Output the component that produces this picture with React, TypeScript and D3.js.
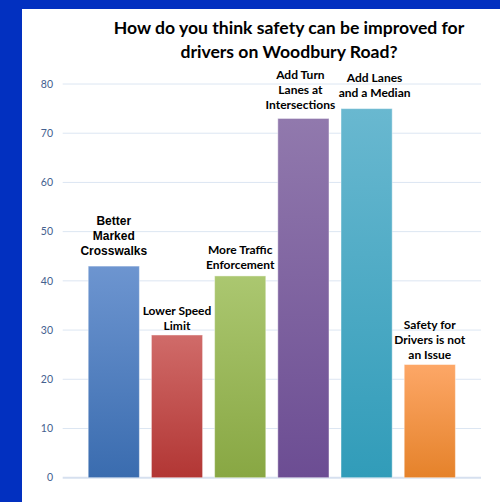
import React from "react";
import * as d3 from "d3";

const categories: string[][] = [
  ["Better", "Marked", "Crosswalks"],
  ["Lower Speed", "Limit"],
  ["More Traffic", "Enforcement"],
  ["Add Turn", "Lanes at", "Intersections"],
  ["Add Lanes", "and a Median"],
  ["Safety for", "Drivers is not", "an Issue"],
];
const values: number[] = [43, 29, 41, 73, 75, 23];
const yTicks: number[] = [0, 10, 20, 30, 40, 50, 60, 70, 80];
const titleLines: string[] = ["How do you think safety can be improved for", "drivers on Woodbury Road?"];
const colorTop: string[] = ["#6d95d0", "#d06b69", "#abc770", "#9179ad", "#69b8d0", "#fda767"];
const colorBottom: string[] = ["#3a6caf", "#b23634", "#88a743", "#6c4d93", "#319cb9", "#e5822a"];

export default function App() {
  const W = 500, H = 502;
  const y = d3.scaleLinear().domain([0, 80]).range([477.7, 84]);
  const x = d3.scaleBand<number>().domain(d3.range(values.length)).range([82.2, 461.4]).paddingInner(0.19).paddingOuter(0.095);
  const font = "Lato, 'Open Sans', sans-serif";
  // label nudges to avoid collisions between neighbouring labels
  const nudgeX = [0, 0, 0, -3, 8, 0];
  const nudgeY = [3, -3, -1, 1, 4, -2];
  return (
    <svg width={W} height={H} style={{ position: "absolute", left: 0, top: 0 }}>
      <defs>
        {values.map((_, i) => (
          <linearGradient key={i} id={`g${i}`} x1="0" y1="0" x2="0" y2="1">
            <stop offset="0" stopColor={colorTop[i]} />
            <stop offset="1" stopColor={colorBottom[i]} />
          </linearGradient>
        ))}
      </defs>
      <rect x={0} y={0} width={W} height={H} fill="#0230c0" />
      <rect x={22} y={9} width={W - 22} height={H - 9} fill="#ffffff" />
      {titleLines.map((t, i) => (
        <text key={i} x={289} y={34 + i * 24} textAnchor="middle" fontFamily={font} fontWeight="bold" fontSize={17.6} fill="#000">{t}</text>
      ))}
      {yTicks.map((t) => (
        <g key={t}>
          <line x1={62.7} x2={481} y1={y(t)} y2={y(t)} stroke={t === 0 ? "#d6e0ef" : "#dce6f2"} strokeWidth={t === 0 ? 2 : 1} />
          <text x={53} y={y(t)} dy="0.35em" textAnchor="end" fontFamily={font} fontSize={10.5} fill="#44608f">{t}</text>
        </g>
      ))}
      {values.map((v, i) => (
        <g key={i}>
          <rect x={x(i)} y={y(v)} width={x.bandwidth()} height={y(0) - y(v)} fill={`url(#g${i})`} stroke="#ffffff" strokeOpacity={0.45} strokeWidth={1} />
          {categories[i].map((line, j) => (
            <text key={j}
              x={(x(i) as number) + x.bandwidth() / 2 + nudgeX[i]}
              y={y(v) - 8 - nudgeY[i] - (categories[i].length - 1 - j) * 15}
              textAnchor="middle"
              fontFamily={i === 0 ? "'Liberation Sans', Arial, sans-serif" : font}
              fontWeight="bold" fontSize={12} fill="#000">{line}</text>
          ))}
        </g>
      ))}
    </svg>
  );
}
